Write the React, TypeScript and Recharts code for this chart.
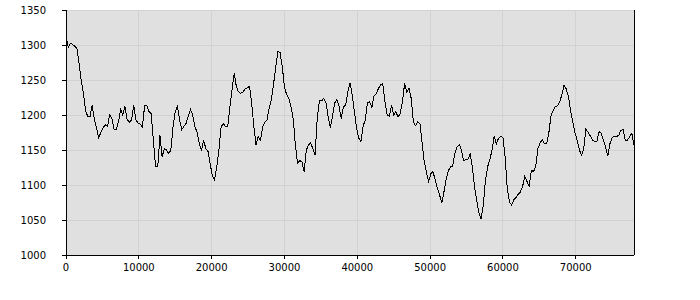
import { LineChart, Line, XAxis, YAxis, CartesianGrid } from 'recharts';

// samples every 300 units along x
const STEP = 300;
const values = [
  1314, 1297, 1302, 1301, 1298, 1295, 1274, 1248, 1231, 1205,
  1198, 1198, 1214, 1193, 1181, 1167, 1176, 1182, 1186, 1184,
  1200, 1195, 1179, 1179, 1190, 1208, 1200, 1212, 1193, 1190,
  1193, 1214, 1193, 1188, 1187, 1183, 1214, 1214, 1205, 1202,
  1164, 1126, 1126, 1171, 1140, 1152, 1150, 1145, 1150, 1183,
  1205, 1212, 1193, 1179, 1184, 1188, 1199, 1208, 1200, 1183,
  1176, 1160, 1149, 1164, 1152, 1148, 1130, 1113, 1107, 1126,
  1150, 1183, 1188, 1183, 1183, 1211, 1236, 1260, 1240, 1233,
  1231, 1233, 1237, 1239, 1241, 1217, 1183, 1157, 1169, 1164,
  1183, 1190, 1193, 1210, 1222, 1244, 1268, 1291, 1289, 1269,
  1240, 1229, 1224, 1211, 1195, 1157, 1131, 1135, 1133, 1119,
  1150, 1157, 1160, 1152, 1143, 1195, 1221, 1220, 1224, 1217,
  1198, 1182, 1198, 1217, 1222, 1212, 1195, 1212, 1214, 1233,
  1246, 1229, 1205, 1182, 1167, 1162, 1184, 1193, 1218, 1219,
  1211, 1227, 1230, 1238, 1243, 1245, 1219, 1200, 1198, 1214,
  1200, 1205, 1197, 1202, 1219, 1245, 1233, 1238, 1224, 1190,
  1185, 1190, 1188, 1160, 1133, 1118, 1105, 1116, 1119, 1107,
  1095, 1086, 1074, 1090, 1108, 1120, 1126, 1127, 1145, 1154,
  1158, 1150, 1135, 1136, 1137, 1144, 1126, 1098, 1078, 1060,
  1052, 1070, 1107, 1126, 1136, 1150, 1170, 1159, 1167, 1169,
  1168, 1140, 1094, 1076, 1071, 1079, 1082, 1087, 1090, 1098,
  1112, 1105, 1098, 1121, 1119, 1126, 1152, 1160, 1165, 1159,
  1159, 1174, 1199, 1206, 1212, 1213, 1219, 1229, 1243, 1237,
  1226, 1206, 1190, 1174, 1164, 1150, 1143, 1152, 1180, 1175,
  1170, 1164, 1162, 1162, 1176, 1174, 1164, 1154, 1141, 1159,
  1168, 1169, 1169, 1171, 1178, 1179, 1164, 1164, 1169, 1174,
  1157,
];

const xTicks = [0, 10000, 20000, 30000, 40000, 50000, 60000, 70000];
const yTicks = [1000, 1050, 1100, 1150, 1200, 1250, 1300, 1350];

const data = values.map((v, i) => ({ x: i * STEP, y: v }));

const tickStyle = { fontSize: 10, fill: '#000', fontFamily: 'DejaVu Sans' };

export default function App() {
  return (
    <div style={{ position: 'absolute', left: 0, top: 0, background: '#fff' }}>
      <LineChart
        width={700}
        height={300}
        data={data}
        margin={{ top: 10, right: 6, bottom: 15, left: 6 }}
      >
        <CartesianGrid
          yAxisId="left"
          fill="#e0e0e0"
          stroke="#d2d2d2"
          strokeWidth={1}
          shapeRendering="crispEdges"
        />
        <XAxis
          dataKey="x"
          type="number"
          domain={[0, 78000]}
          ticks={xTicks}
          height={30}
          tick={tickStyle}
          tickSize={4}
          tickMargin={5}
          axisLine={{ stroke: '#000', shapeRendering: 'crispEdges' }}
          tickLine={{ stroke: '#000', shapeRendering: 'crispEdges' }}
        />
        <XAxis
          xAxisId="top"
          orientation="top"
          dataKey="x"
          type="number"
          domain={[0, 78000]}
          height={0}
          tick={false}
          tickLine={false}
          axisLine={{ stroke: '#000', shapeRendering: 'crispEdges' }}
        />
        <YAxis
          yAxisId="left"
          domain={[1000, 1350]}
          ticks={yTicks}
          width={60}
          tick={tickStyle}
          tickSize={4}
          tickMargin={16}
          axisLine={{ stroke: '#000', shapeRendering: 'crispEdges' }}
          tickLine={{ stroke: '#000', shapeRendering: 'crispEdges' }}
        />
        <YAxis
          yAxisId="right"
          orientation="right"
          domain={[1000, 1350]}
          ticks={yTicks}
          width={60}
          tick={{ ...tickStyle, textAnchor: 'start' }}
          tickSize={4}
          tickMargin={17}
          axisLine={{ stroke: '#000', shapeRendering: 'crispEdges' }}
          tickLine={{ stroke: '#000', shapeRendering: 'crispEdges' }}
        />
        <Line
          yAxisId="left"
          dataKey="y"
          type="linear"
          stroke="#000"
          strokeWidth={1}
          dot={false}
          shapeRendering="crispEdges"
          isAnimationActive={false}
        />
      </LineChart>
    </div>
  );
}
